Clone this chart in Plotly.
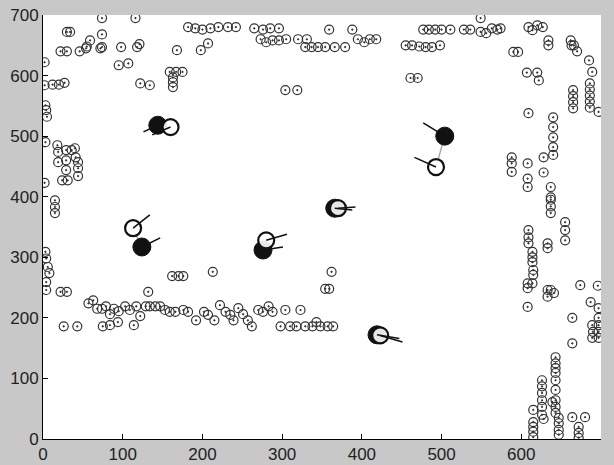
import plotly.graph_objects as go

# ---------------- data ----------------
tick_vals = [0, 100, 200, 300, 400, 500, 600, 700]
tick_text = ["0", "100", "200", "300", "400", "500", "600", "700"]

# small landmark markers (x, y)
marks_top = [
    (74, 695), (116, 695), (549, 695),
    (30, 672), (34, 672), (74, 668),
    (182, 680), (191, 678), (200, 676), (210, 678), (220, 680), (232, 680), (242, 680),
    (265, 678), (276, 676), (285, 678), (296, 678),
    (273, 660), (280, 655), (288, 658), (296, 658), (305, 660), (320, 660), (331, 660),
    (359, 676), (388, 676), (395, 660), (403, 655), (410, 660), (418, 660),
    (477, 676), (484, 676), (492, 676), (500, 676), (511, 676), (528, 676), (536, 676),
    (549, 672), (556, 670), (563, 678), (570, 676),
    (609, 680), (614, 675), (620, 683), (627, 680),
    (54, 645), (74, 647), (98, 647), (118, 647), (121, 652),
    (22, 640), (30, 640), (46, 640), (55, 648), (59, 658), (72, 645),
    (95, 617), (107, 620), (168, 642), (198, 642), (207, 653),
    (329, 647), (337, 647), (345, 647), (354, 647), (366, 647), (379, 647),
    (455, 650), (463, 650), (472, 648), (480, 647), (488, 647), (498, 650),
    (461, 596), (470, 596), (304, 576), (319, 576),
    (159, 606), (167, 606), (175, 606), (163, 597), (163, 589), (163, 581),
    (122, 587), (134, 584),
]
marks_left = [
    (2, 622), (2, 584), (3, 551), (4, 543), (5, 532), (3, 490), (2, 423),
    (3, 309), (4, 298), (6, 284), (8, 274), (4, 259), (4, 246),
    (12, 585), (20, 585), (27, 588),
    (18, 485), (19, 474), (19, 457), (29, 477), (29, 460), (29, 444), (31, 427),
    (36, 477), (40, 480), (41, 465), (44, 457), (44, 447), (44, 434), (24, 427),
    (15, 394), (15, 383), (15, 373), (22, 243), (30, 243),
]
marks_bottom = [
    (26, 186), (43, 186), (57, 224), (63, 229), (68, 215), (74, 215), (79, 219),
    (84, 206), (89, 215), (95, 211), (103, 219), (109, 213), (117, 219), (122, 203),
    (129, 219), (134, 219), (141, 219), (147, 219), (153, 213), (159, 210), (166, 210),
    (176, 213), (182, 210), (192, 196), (202, 210), (207, 205), (215, 196), (222, 221),
    (229, 210), (235, 205), (239, 196), (245, 216), (251, 206), (257, 196), (262, 186),
    (270, 213), (276, 210), (283, 219), (288, 210), (298, 186), (304, 213), (310, 186),
    (318, 186), (323, 213), (329, 186), (338, 186), (343, 193), (348, 186), (357, 186),
    (364, 186), (114, 188), (84, 188), (75, 186), (94, 193),
    (162, 269), (170, 269), (176, 269), (213, 276), (132, 243),
    (362, 276), (354, 248), (359, 248),
]
marks_right = [
    (574, 678), (590, 639), (596, 639), (634, 650), (634, 658), (663, 650),
    (662, 658), (666, 650), (670, 640), (685, 625), (689, 606),
    (607, 605), (620, 605), (622, 592), (609, 538),
    (665, 546), (665, 556), (665, 566), (665, 576),
    (686, 547), (686, 557), (686, 567), (686, 577), (686, 587), (697, 540),
    (640, 531), (640, 515), (640, 498), (640, 482), (640, 469),
    (588, 465), (588, 455), (588, 441), (608, 455), (608, 430), (608, 416),
    (628, 465), (628, 440), (637, 416), (637, 399),
    (637, 395), (637, 384), (637, 373),
    (655, 358), (655, 345), (655, 328),
    (609, 345), (609, 333), (609, 323),
    (614, 309), (614, 300), (614, 292), (633, 323), (633, 315),
    (615, 279), (615, 271), (608, 257), (614, 257), (608, 249),
    (633, 246), (637, 246), (641, 241), (633, 235), (608, 218),
    (674, 254), (696, 253), (687, 226), (697, 216), (664, 200),
    (689, 188), (690, 177), (689, 167), (697, 200), (697, 188), (697, 177), (697, 167),
    (664, 158),
    (643, 135), (643, 125), (643, 117), (643, 109), (643, 97), (643, 81), (643, 64),
    (626, 97), (626, 87), (626, 76), (626, 64), (626, 53), (626, 40),
    (643, 53), (643, 43), (647, 35), (647, 26), (647, 15), (647, 7),
    (615, 48), (628, 33), (615, 28), (615, 20), (615, 12), (615, 3),
    (664, 36), (680, 36), (672, 20), (672, 10), (672, 2), (639, 61),
]

# robots
filled_x = [144, 504, 124, 276, 366, 419]
filled_y = [518, 500, 317, 312, 381, 172]
filled_hx = [126, 477, 147, 301, 388, 447]
filled_hy = [507, 522, 332, 317, 378, 166]

open_x = [160, 493, 113, 280, 370, 423]
open_y = [515, 449, 348, 328, 381, 171]
open_hx = [137, 466, 134, 306, 392, 451]
open_hy = [502, 465, 370, 338, 383, 160]

link_pairs = [(1, 1), (2, 2), (3, 3)]  # indices of filled/open robots joined by grey link

# ---------------- figure ----------------
all_marks = marks_top + marks_left + marks_bottom + marks_right
mx = [p[0] for p in all_marks]
my = [p[1] for p in all_marks]

fig = go.Figure()

fig.add_trace(go.Scatter(
    x=mx, y=my, mode="markers",
    marker=dict(symbol="circle-open-dot", size=9, color="#333333", line=dict(width=1.2)),
    hoverinfo="skip", showlegend=False))

# grey links
lx, ly = [], []
for fi, oi in link_pairs:
    lx += [filled_x[fi], open_x[oi], None]
    ly += [filled_y[fi], open_y[oi], None]
fig.add_trace(go.Scatter(x=lx, y=ly, mode="lines",
                         line=dict(color="#aaaaaa", width=1.5),
                         hoverinfo="skip", showlegend=False))

fig.add_trace(go.Scatter(
    x=filled_x, y=filled_y, mode="markers",
    marker=dict(symbol="circle", size=18, color="#111111", line=dict(color="#111111", width=1)),
    hoverinfo="skip", showlegend=False))

fig.add_trace(go.Scatter(
    x=open_x, y=open_y, mode="markers",
    marker=dict(symbol="circle", size=16, color="rgba(255,255,255,0.9)",
                line=dict(color="#111111", width=2.2)),
    hoverinfo="skip", showlegend=False))

# heading lines
hx, hy = [], []
for i in range(len(filled_x)):
    hx += [filled_x[i], filled_hx[i], None]
    hy += [filled_y[i], filled_hy[i], None]
for i in range(len(open_x)):
    hx += [open_x[i], open_hx[i], None]
    hy += [open_y[i], open_hy[i], None]
fig.add_trace(go.Scatter(x=hx, y=hy, mode="lines",
                         line=dict(color="#111111", width=1.5),
                         hoverinfo="skip", showlegend=False))

axis_common = dict(
    range=[0, 700], tickmode="array", tickvals=tick_vals, ticktext=tick_text,
    showgrid=False, zeroline=False, showline=True, linecolor="#000000", linewidth=1,
    ticks="inside", ticklen=5, tickcolor="#000000", mirror=False, automargin=False,
    tickfont=dict(family="Liberation Sans Narrow, Liberation Sans, Arial, sans-serif",
                  size=17, color="#222222"),
    fixedrange=True,
)
fig.update_xaxes(**axis_common)
fig.update_yaxes(**axis_common)

fig.update_layout(
    width=614, height=465,
    margin=dict(l=43, r=13, t=15, b=26, pad=0),
    paper_bgcolor="#c8c8c8", plot_bgcolor="#ffffff",
    showlegend=False,
)

fig.write_html(
    "out.html",
    config={"displayModeBar": False},
    post_script="document.body.style.margin='0';document.body.style.background='#c8c8c8';",
)
